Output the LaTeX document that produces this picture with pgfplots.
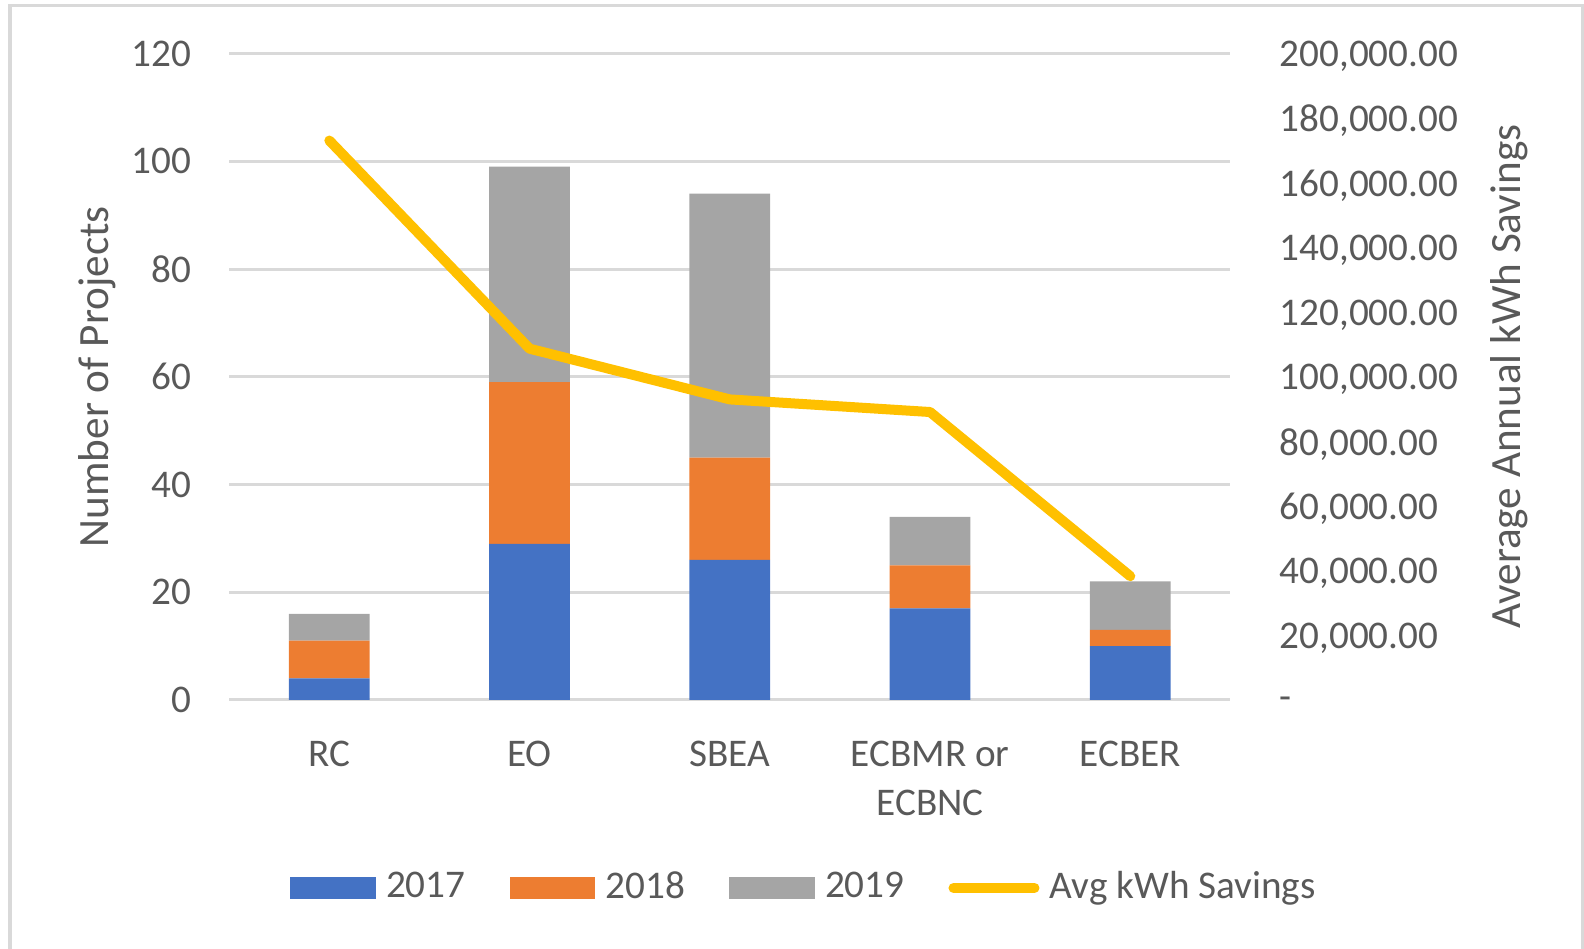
\documentclass[border=0pt]{standalone}
\usepackage{fontspec}
\setmainfont{Carlito}
\usepackage{pgfplots}
\pgfplotsset{compat=1.18}

\definecolor{c17}{HTML}{4472C4}
\definecolor{c18}{HTML}{ED7D31}
\definecolor{c19}{HTML}{A5A5A5}
\definecolor{gold}{HTML}{FFC000}
\definecolor{txt}{HTML}{595959}
\definecolor{gridc}{HTML}{D9D9D9}

\newcommand{\tickfont}{\fontsize{9.8}{12.1}\selectfont}
\newcommand{\titlefont}{\fontsize{10.8}{13}\selectfont}

\pgfplotsset{
  combo/.style={
    at={(0,0)}, anchor=south west,
    scale only axis, width=250.3pt, height=161.6pt,
    xmin=-0.5, xmax=4.5,
    axis line style={draw=none},
    major tick length=0pt,
    tick label style={font=\tickfont, text=txt},
    label style={font=\titlefont, text=txt},
    /pgf/number format/assume math mode=true,
  },
}

\begin{document}
\begin{tikzpicture}
\useasboundingbox (-57.3pt,-62.25pt) rectangle (338.7pt,175pt);
\begin{scope}
  \clip (-57.3pt,-62.25pt) rectangle (338.7pt,175pt);
  \draw[gridc, line width=0.8pt] (-54.8pt,-80pt) rectangle (338.4pt,173.6pt);
\end{scope}

% number of projects, stacked by year
\begin{axis}[
    combo,
    ybar stacked,
    bar width=20.2pt,
    ymin=0, ymax=120,
    ytick={0,20,...,120},
    xtick={0,1,2,3,4},
    xticklabels={RC,EO,SBEA,{ECBMR or\\ECBNC},ECBER},
    ymajorgrids,
    grid style={gridc, line width=0.75pt},
    xticklabel style={anchor=north, inner sep=0pt, yshift=-10.1pt, align=center},
    yticklabel style={anchor=east, inner sep=0pt, xshift=-9.3pt},
    ylabel={Number of Projects},
    ylabel style={at={(axis description cs:-0.1322,0.5)}, anchor=center},
  ]
  \addplot[fill=c17, draw=none] coordinates {(0,4) (1,29) (2,26) (3,17) (4,10)};
  \addplot[fill=c18, draw=none] coordinates {(0,7) (1,30) (2,19) (3,8) (4,3)};
  \addplot[fill=c19, draw=none] coordinates {(0,5) (1,40) (2,49) (3,9) (4,9)};
\end{axis}

% average savings on the secondary axis
\begin{axis}[
    combo,
    ymin=0, ymax=200000,
    axis y line*=right,
    axis x line=none,
    scaled y ticks=false,
    ytick={0,20000,...,200000},
    yticklabels={{-},{20,000.00},{40,000.00},{60,000.00},{80,000.00},{100,000.00},
      {120,000.00},{140,000.00},{160,000.00},{180,000.00},{200,000.00}},
    yticklabel style={anchor=west, inner sep=0pt, xshift=12.1pt, yshift=-0.7pt},
    ylabel={Average Annual kWh Savings},
    ylabel style={at={(axis description cs:1.278,0.5)}, anchor=center},
    legend columns=4,
    legend cell align=left,
    legend style={
      at={(axis description cs:0.0600,-0.2908)}, anchor=west,
      draw=none, fill=none, inner sep=0pt,
      font=\tickfont, text=txt,
      nodes={inner sep=0pt},
      /tikz/every odd column/.append style={column sep=2.6pt},
      /tikz/every even column/.append style={column sep=11.0pt},
    },
  ]
  \addlegendimage{legend image code/.code={\fill[c17] (0pt,-2.65pt) rectangle (21pt,2.65pt);}}
  \addlegendimage{legend image code/.code={\fill[c18] (0pt,-2.65pt) rectangle (21pt,2.65pt);}}
  \addlegendimage{legend image code/.code={\fill[c19] (0pt,-2.65pt) rectangle (21pt,2.65pt);}}
  \addplot[gold, line width=2.5pt, line join=round, line cap=round,
    legend image code/.code={\draw[gold, line width=2.5pt, line cap=round] (1.25pt,0pt) -- (21.5pt,0pt);}]
    coordinates {(0,173100) (1,108700) (2,93000) (3,89100) (4,38300)};
  \legend{2017,2018,2019,Avg kWh Savings}
\end{axis}
\end{tikzpicture}
\end{document}
